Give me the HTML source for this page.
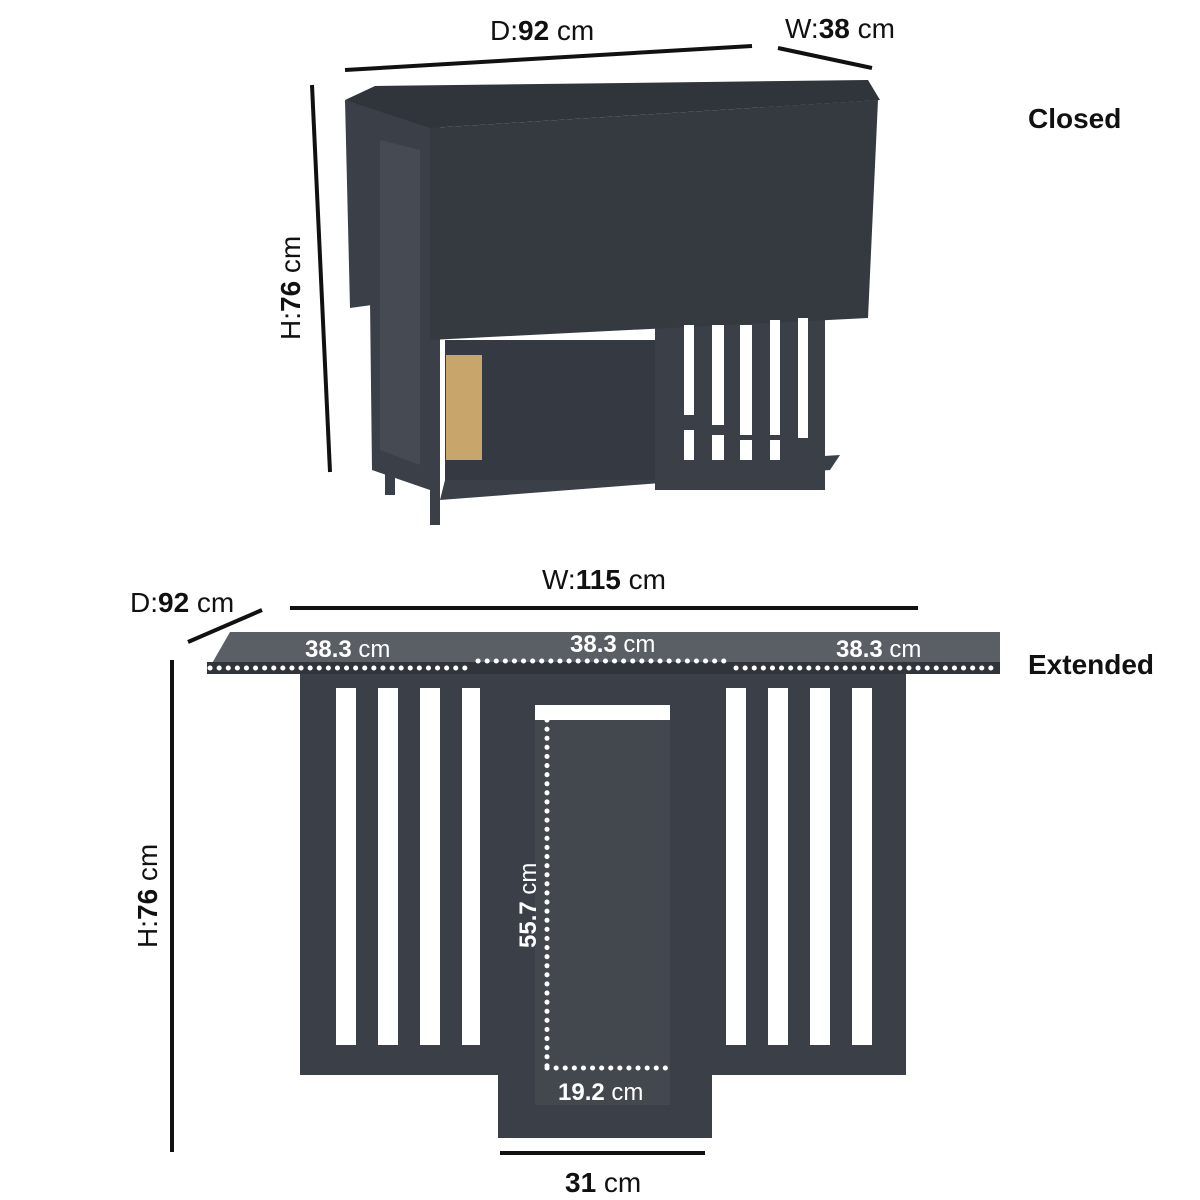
<!DOCTYPE html>
<html><head><meta charset="utf-8"><style>
body{margin:0;background:#fff}
svg{display:block}
text{font-family:"Liberation Sans",sans-serif;fill:#111}
</style></head><body>
<svg width="1200" height="1200" viewBox="0 0 1200 1200">
<!-- CLOSED -->
<g fill="#3b4048">
<polygon points="365,100 440,125 440,525 430,525 430,490 372,470 370,300"/>
<polygon points="440,500 830,470 840,455 445,480"/>
<rect x="655" y="320" width="170" height="170"/>
<rect x="445" y="340" width="210" height="140" fill="#353a42"/>
<rect x="385" y="455" width="10" height="40"/>
<polygon points="345,100 372,108 372,305 350,308"/>
<polygon points="345,100 375,86 868,80 880,100 430,128" fill="#30343b"/>
<polygon points="430,128 878,100 868,318 430,340" fill="#353a41"/>
<polygon points="380,140 420,150 420,465 380,450" fill="#464b53"/>
</g>
<rect x="446" y="355" width="36" height="105" fill="#c8a66b"/>
<g fill="#fff">
<rect x="684" y="325" width="10" height="90"/><rect x="712" y="325" width="12" height="100"/>
<rect x="740" y="325" width="12" height="110"/><rect x="770" y="320" width="10" height="115"/>
<rect x="798" y="318" width="10" height="120"/>
<rect x="684" y="430" width="10" height="30"/><rect x="712" y="435" width="12" height="25"/>
<rect x="740" y="440" width="12" height="20"/><rect x="770" y="440" width="10" height="20"/>
</g>
<g stroke="#111" stroke-width="4" fill="none">
<line x1="345" y1="70" x2="752" y2="46"/>
<line x1="778" y1="48" x2="872" y2="68"/>
<line x1="312" y1="85" x2="330" y2="472"/>
</g>
<text x="490" y="40" font-size="28">D:<tspan font-weight="bold">92</tspan> cm</text>
<text x="785" y="38" font-size="28">W:<tspan font-weight="bold">38</tspan> cm</text>
<text transform="translate(300,340) rotate(-90)" font-size="28">H:<tspan font-weight="bold">76</tspan> cm</text>
<text x="1028" y="128" font-size="28" font-weight="bold">Closed</text>

<!-- EXTENDED -->
<g fill="#3b4048">
<rect x="300" y="672" width="198" height="403"/>
<rect x="712" y="672" width="194" height="403"/>
<rect x="498" y="672" width="214" height="466"/>
<polygon points="230,632 1000,632 1000,672 207,672" fill="#5a5f66"/>
<rect x="207" y="662" width="793" height="12" fill="#30343b"/>
</g>
<g fill="#fff">
<rect x="336" y="688" width="20" height="357"/><rect x="378" y="688" width="20" height="357"/>
<rect x="420" y="688" width="20" height="357"/><rect x="462" y="688" width="18" height="357"/>
<rect x="726" y="688" width="20" height="357"/><rect x="768" y="688" width="20" height="357"/>
<rect x="810" y="688" width="20" height="357"/><rect x="852" y="688" width="20" height="357"/>
</g>
<rect x="535" y="705" width="135" height="15" fill="#fff"/>
<rect x="535" y="720" width="135" height="385" fill="#43484f"/>
<g stroke="#fff" stroke-width="5" stroke-dasharray="0.1 9" stroke-linecap="round" fill="none">
<line x1="210" y1="668" x2="472" y2="668"/>
<line x1="478" y1="661" x2="730" y2="661"/>
<line x1="736" y1="668" x2="998" y2="668"/>
<line x1="547" y1="720" x2="547" y2="1068"/>
<line x1="547" y1="1068" x2="668" y2="1068"/>
</g>
<g stroke="#111" stroke-width="4" fill="none">
<line x1="290" y1="608" x2="918" y2="608"/>
<line x1="188" y1="642" x2="262" y2="610"/>
<line x1="172" y1="660" x2="172" y2="1152"/>
<line x1="500" y1="1153" x2="705" y2="1153"/>
</g>
<text x="542" y="589" font-size="28">W:<tspan font-weight="bold">115</tspan> cm</text>
<text x="130" y="612" font-size="28">D:<tspan font-weight="bold">92</tspan> cm</text>
<text transform="translate(157,948) rotate(-90)" font-size="28">H:<tspan font-weight="bold">76</tspan> cm</text>
<text x="565" y="1192" font-size="28"><tspan font-weight="bold">31</tspan> cm</text>
<text x="1028" y="674" font-size="28" font-weight="bold">Extended</text>
<g font-size="24">
<text x="305" y="657" style="fill:#fff"><tspan font-weight="bold">38.3</tspan> cm</text>
<text x="570" y="652" style="fill:#fff"><tspan font-weight="bold">38.3</tspan> cm</text>
<text x="836" y="657" style="fill:#fff"><tspan font-weight="bold">38.3</tspan> cm</text>
<text x="558" y="1100" style="fill:#fff"><tspan font-weight="bold">19.2</tspan> cm</text>
<text transform="translate(536,948) rotate(-90)" style="fill:#fff"><tspan font-weight="bold">55.7</tspan> cm</text>
</g>
</svg>
</body></html>
